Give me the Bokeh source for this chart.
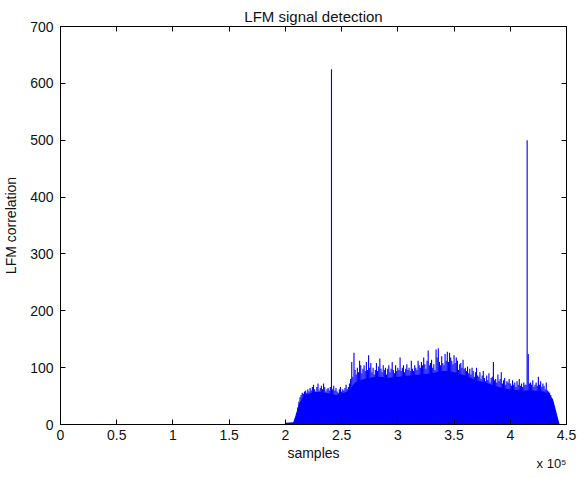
from bokeh.plotting import figure
from bokeh.models import Range1d, LinearAxis, FixedTicker, Title, CustomJSTickFormatter
from bokeh.embed import file_html
from bokeh.resources import INLINE

# ---- data ----
title_text = "LFM signal detection"
x_label = "samples"
y_label = "LFM correlation"
x_scale_note = "x 10\u2075"

x_ticks = [0, 50000, 100000, 150000, 200000, 250000, 300000, 350000, 400000, 450000]
x_tick_labels = ["0", "0.5", "1", "1.5", "2", "2.5", "3", "3.5", "4", "4.5"]
y_ticks = [0, 100, 200, 300, 400, 500, 600, 700]

# solid lower part of the correlation output
body_x = [199000, 200000, 207000, 209000, 212000, 215000, 218000, 222000, 226000, 230000,
          235000, 240000, 245000, 250000, 255000, 258000, 262000, 270000, 280000, 285000,
          290000, 300000, 310000, 320000, 330000, 340000, 345000, 350000, 360000, 370000,
          380000, 390000, 398000, 410000, 420000, 430000, 435000, 438000, 440000, 442000,
          443500, 444000]
body_y = [0, 3, 4, 16, 36, 46, 52, 55, 57, 57,
          56, 54, 52, 54, 58, 64, 74, 80, 84, 84,
          82, 84, 86, 88, 90, 94, 94, 92, 86, 78,
          72, 66, 62, 60, 60, 58, 52, 44, 30, 14,
          3, 0]

# column maxima, one per 1000 samples from 210000 to 439000
peak_x = list(range(210000, 440000, 1000))
peak_y = [20, 30, 40, 48, 52, 56, 54, 58, 60, 56,
          62, 58, 64, 60, 66, 70, 62, 58, 66, 72,
          60, 64, 68, 62, 72, 66, 58, 62, 64, 60,
          66, 625, 62, 68, 60, 64, 58, 56, 62, 66,
          58, 62, 60, 64, 70, 62, 66, 72, 80, 110,
          84, 126, 96, 88, 100, 92, 112, 104, 90, 98,
          104, 94, 110, 96, 122, 100, 108, 92, 100, 88,
          96, 108, 94, 102, 116, 98, 92, 104, 96, 100,
          88, 98, 104, 92, 98, 110, 96, 90, 104, 94,
          100, 96, 118, 94, 100, 104, 92, 98, 106, 96,
          100, 94, 112, 98, 94, 104, 100, 96, 112, 104,
          100, 110, 104, 118, 106, 98, 112, 130, 104, 108,
          114, 100, 106, 96, 132, 118, 134, 110, 104, 120,
          108, 104, 124, 112, 128, 110, 126, 118, 112, 106,
          122, 108, 118, 112, 96, 106, 108, 100, 114, 98,
          100, 94, 102, 90, 98, 88, 100, 94, 84, 92,
          100, 86, 84, 92, 80, 86, 94, 82, 76, 86,
          78, 90, 74, 82, 84, 110, 78, 80, 74, 88,
          76, 80, 92, 72, 78, 82, 70, 76, 74, 80,
          72, 68, 78, 70, 74, 66, 76, 70, 80, 68,
          72, 66, 74, 70, 70, 500, 124, 72, 74, 70,
          78, 66, 70, 74, 68, 84, 70, 76, 66, 72,
          68, 62, 74, 60, 58, 56, 52, 46, 40, 30]

BLUE = "#0000ff"
FONT = "Liberation Sans"
FS = "14px"
TXT = "#111111"

p = figure(width=576, height=470, output_backend="svg", toolbar_location=None,
           x_range=Range1d(0, 450000), y_range=Range1d(0, 700),
           frame_width=506, frame_height=398,
           min_border_left=59, min_border_right=11, min_border_top=26, min_border_bottom=46,
           x_axis_type=None, y_axis_type=None)
p.background_fill_color = "white"
p.border_fill_color = "white"
p.outline_line_color = "#000000"
p.xgrid.visible = False
p.ygrid.visible = False

p.title.text = title_text
p.title.align = "center"
p.title.text_font = FONT
p.title.text_font_size = "15px"
p.title.text_font_style = "normal"
p.title.text_color = TXT
p.title.standoff = 4

p.varea(x=body_x, y1=0, y2=body_y, fill_color=BLUE, fill_alpha=1.0)
p.vbar(x=peak_x, top=peak_y, width=1000, bottom=0, fill_color=BLUE, line_color=None)

def style_axis(ax, labels=True):
    ax.axis_line_color = "#000000"
    ax.major_tick_line_color = "#000000"
    ax.major_tick_in = 5
    ax.major_tick_out = 0
    ax.minor_tick_line_color = None
    ax.major_label_text_font = FONT
    ax.major_label_text_font_size = FS
    ax.major_label_text_color = TXT
    ax.axis_label_text_font = FONT
    ax.axis_label_text_font_size = FS
    ax.axis_label_text_font_style = "normal"
    ax.axis_label_text_color = TXT
    if not labels:
        ax.formatter = CustomJSTickFormatter(code="return ''")
        ax.major_label_text_font_size = "0px"
        ax.major_label_standoff = 0

xb = LinearAxis(ticker=FixedTicker(ticks=x_ticks), axis_label=x_label)
xb.major_label_overrides = {t: s for t, s in zip(x_ticks, x_tick_labels)}
style_axis(xb)
xb.major_label_standoff = 5
xb.axis_label_standoff = 2
p.add_layout(xb, "below")

xt = LinearAxis(ticker=FixedTicker(ticks=x_ticks))
style_axis(xt, labels=False)
p.add_layout(xt, "above")

yl = LinearAxis(ticker=FixedTicker(ticks=y_ticks), axis_label=y_label)
style_axis(yl)
yl.major_label_standoff = 7
yl.axis_label_standoff = 8
p.add_layout(yl, "left")

yr = LinearAxis(ticker=FixedTicker(ticks=y_ticks))
style_axis(yr, labels=False)
p.add_layout(yr, "right")

note = Title(text=x_scale_note, align="right", vertical_align="top", text_font=FONT,
             text_font_size="13px", text_font_style="normal", text_color=TXT,
             standoff=-16, offset=0)
p.add_layout(note, "below")

open("out.html", "w").write(file_html(p, INLINE))
